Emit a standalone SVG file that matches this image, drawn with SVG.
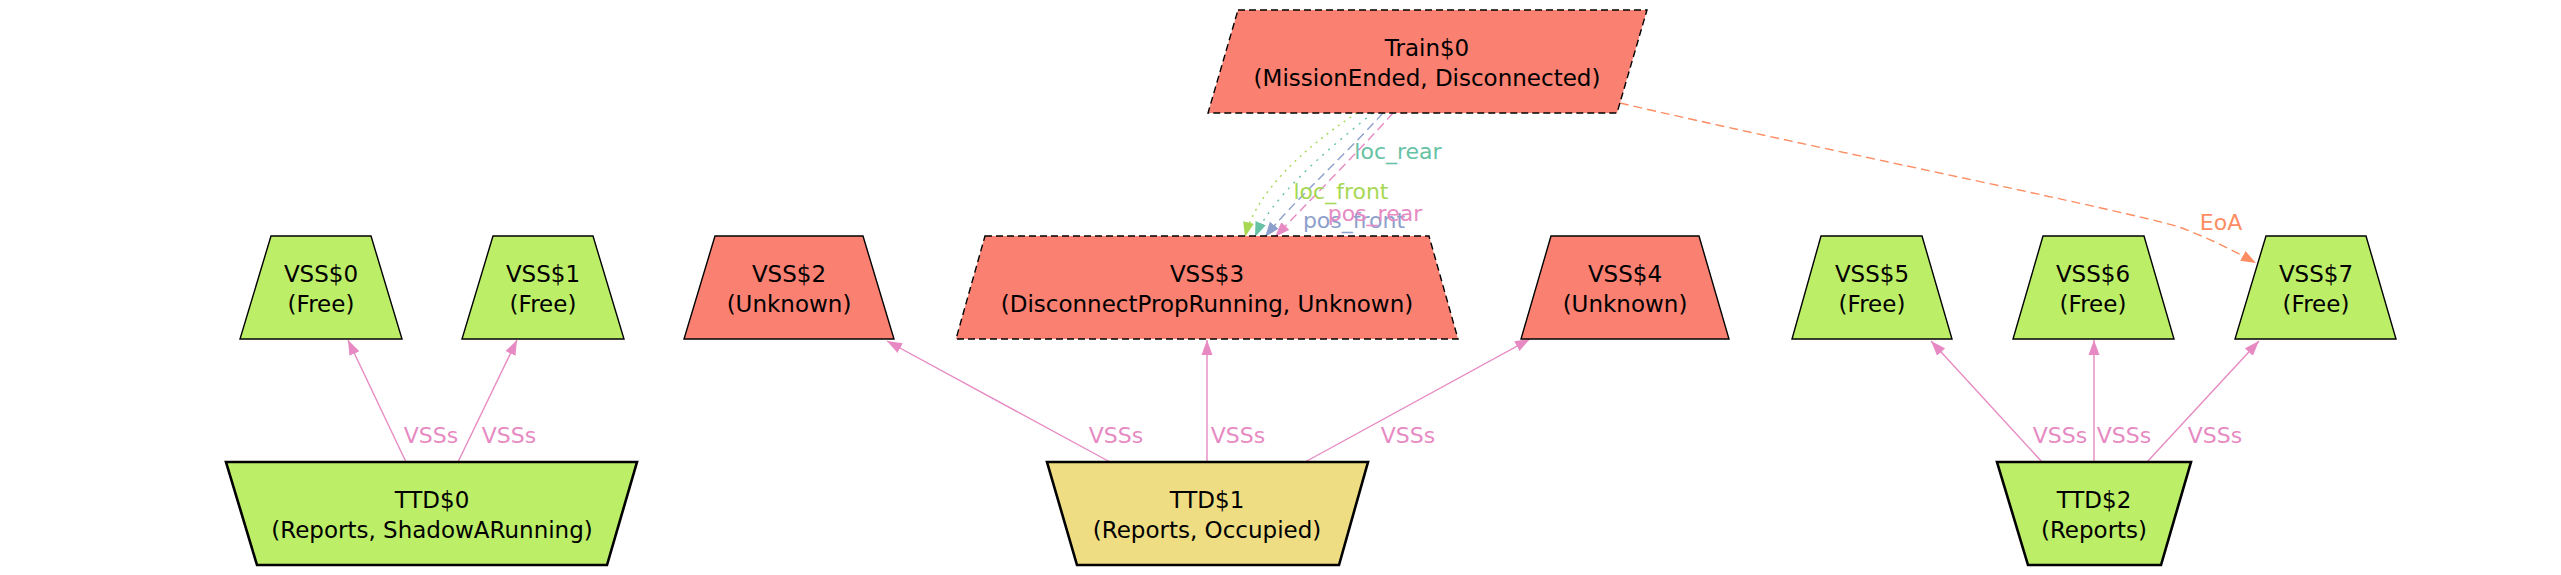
<svg xmlns="http://www.w3.org/2000/svg" width="2561" height="575" viewBox="0 0 2561 575">
<style>
text{font-family:"DejaVu Sans","Liberation Sans",sans-serif;font-size:23px;text-anchor:middle;fill:#000}
.el{font-size:22px}
.red{fill:#fa8072;stroke:#000;stroke-width:1.4}
.grn{fill:#bcee68;stroke:#000;stroke-width:1.4}
.khk{fill:#eedd82;stroke:#000;stroke-width:2.6}
.ttd{stroke-width:2.6}
.dash{stroke-dasharray:7,4}
.e{fill:none;stroke-width:1.4}
.pk{stroke:#e78ac3}
.gr{stroke:#a6d854}
.tl{stroke:#66c2a5}
.bl{stroke:#8da0cb}
.or{stroke:#fc8d62}
</style>
<defs>
<marker id="aPk" markerUnits="userSpaceOnUse" markerWidth="16" markerHeight="12" refX="15" refY="6" orient="auto"><path d="M0,0.5 L15,6 L0,11.5 Z" fill="#e78ac3"/></marker>
<marker id="aGr" markerUnits="userSpaceOnUse" markerWidth="16" markerHeight="12" refX="15" refY="6" orient="auto"><path d="M0,0.5 L15,6 L0,11.5 Z" fill="#a6d854"/></marker>
<marker id="aTl" markerUnits="userSpaceOnUse" markerWidth="16" markerHeight="12" refX="15" refY="6" orient="auto"><path d="M0,0.5 L15,6 L0,11.5 Z" fill="#66c2a5"/></marker>
<marker id="aBl" markerUnits="userSpaceOnUse" markerWidth="16" markerHeight="12" refX="15" refY="6" orient="auto"><path d="M0,0.5 L15,6 L0,11.5 Z" fill="#8da0cb"/></marker>
<marker id="aOr" markerUnits="userSpaceOnUse" markerWidth="16" markerHeight="12" refX="15" refY="6" orient="auto"><path d="M0,0.5 L15,6 L0,11.5 Z" fill="#fc8d62"/></marker>
</defs>
<rect width="2561" height="575" fill="#fff"/>

<g id="connectors">
<path class="e pk" d="M406,462 L348,340" marker-end="url(#aPk)"/>
<path class="e pk" d="M458,462 L517,340" marker-end="url(#aPk)"/>
<path class="e pk" d="M1110,462 L887,341" marker-end="url(#aPk)"/>
<path class="e pk" d="M1207,462 L1207,340" marker-end="url(#aPk)"/>
<path class="e pk" d="M1305,462 L1530,339" marker-end="url(#aPk)"/>
<path class="e pk" d="M2042,462 L1931,341" marker-end="url(#aPk)"/>
<path class="e pk" d="M2094,462 L2094,340" marker-end="url(#aPk)"/>
<path class="e pk" d="M2147,462 L2259,341" marker-end="url(#aPk)"/>
<path class="e gr" style="stroke-dasharray:2,5" d="M1357,113 C1300,150 1255,195 1245,237" marker-end="url(#aGr)"/>
<path class="e tl" style="stroke-dasharray:2,6" d="M1373,113 C1320,155 1270,200 1255,237" marker-end="url(#aTl)"/>
<path class="e bl" style="stroke-dasharray:9,5" d="M1383,113 C1340,160 1290,205 1265,237" marker-end="url(#aBl)"/>
<path class="e pk" style="stroke-dasharray:9,5" d="M1393,113 C1360,150 1310,200 1275,237" marker-end="url(#aPk)"/>
<path class="e or" style="stroke-dasharray:9,5" d="M1620,103 C1800,145 2100,205 2176,226 C2205,236 2232,250 2256,263" marker-end="url(#aOr)"/>
<text class="el" x="431" y="443" fill="#e78ac3" style="fill:#e78ac3">VSSs</text>
<text class="el" x="509" y="443" style="fill:#e78ac3">VSSs</text>
<text class="el" x="1116" y="443" style="fill:#e78ac3">VSSs</text>
<text class="el" x="1238" y="443" style="fill:#e78ac3">VSSs</text>
<text class="el" x="1408" y="443" style="fill:#e78ac3">VSSs</text>
<text class="el" x="2060" y="443" style="fill:#e78ac3">VSSs</text>
<text class="el" x="2124" y="443" style="fill:#e78ac3">VSSs</text>
<text class="el" x="2215" y="443" style="fill:#e78ac3">VSSs</text>
<text class="el" x="1398" y="159" style="fill:#66c2a5">loc_rear</text>
<text class="el" x="1341" y="199" style="fill:#a6d854">loc_front</text>
<text class="el" x="1354" y="228" style="fill:#8da0cb">pos_front</text>
<text class="el" x="1375" y="221" style="fill:#e78ac3">pos_rear</text>
<text class="el" x="2221" y="230" style="fill:#fc8d62">EoA</text>
</g>

<g id="Train0">
<polygon class="red dash" points="1238,10 1647,10 1617,113 1208,113"/>
<text x="1427" y="56">Train$0</text>
<text x="1427" y="86">(MissionEnded, Disconnected)</text>
</g>

<g id="VSS0">
<polygon class="grn" points="271,236 371,236 402,339 240,339"/>
<text x="321" y="282">VSS$0</text>
<text x="321" y="312">(Free)</text>
</g>
<g id="VSS1">
<polygon class="grn" points="493,236 593,236 624,339 462,339"/>
<text x="543" y="282">VSS$1</text>
<text x="543" y="312">(Free)</text>
</g>
<g id="VSS2">
<polygon class="red" points="715,236 863,236 894,339 684,339"/>
<text x="789" y="282">VSS$2</text>
<text x="789" y="312">(Unknown)</text>
</g>
<g id="VSS3">
<polygon class="red dash" points="985,236 1429,236 1458,339 956,339"/>
<text x="1207" y="282">VSS$3</text>
<text x="1207" y="312">(DisconnectPropRunning, Unknown)</text>
</g>
<g id="VSS4">
<polygon class="red" points="1551,236 1699,236 1729,339 1521,339"/>
<text x="1625" y="282">VSS$4</text>
<text x="1625" y="312">(Unknown)</text>
</g>
<g id="VSS5">
<polygon class="grn" points="1821,236 1922,236 1952,339 1792,339"/>
<text x="1872" y="282">VSS$5</text>
<text x="1872" y="312">(Free)</text>
</g>
<g id="VSS6">
<polygon class="grn" points="2043,236 2144,236 2174,339 2013,339"/>
<text x="2093" y="282">VSS$6</text>
<text x="2093" y="312">(Free)</text>
</g>
<g id="VSS7">
<polygon class="grn" points="2266,236 2366,236 2396,339 2235,339"/>
<text x="2316" y="282">VSS$7</text>
<text x="2316" y="312">(Free)</text>
</g>

<g id="TTD0">
<polygon class="grn ttd" points="226,462 637,462 607,565 257,565"/>
<text x="432" y="508">TTD$0</text>
<text x="432" y="538">(Reports, ShadowARunning)</text>
</g>
<g id="TTD1">
<polygon class="khk" points="1047,462 1368,462 1339,565 1077,565"/>
<text x="1207" y="508">TTD$1</text>
<text x="1207" y="538">(Reports, Occupied)</text>
</g>
<g id="TTD2">
<polygon class="grn ttd" points="1997,462 2191,462 2161,565 2028,565"/>
<text x="2094" y="508">TTD$2</text>
<text x="2094" y="538">(Reports)</text>
</g>
</svg>
